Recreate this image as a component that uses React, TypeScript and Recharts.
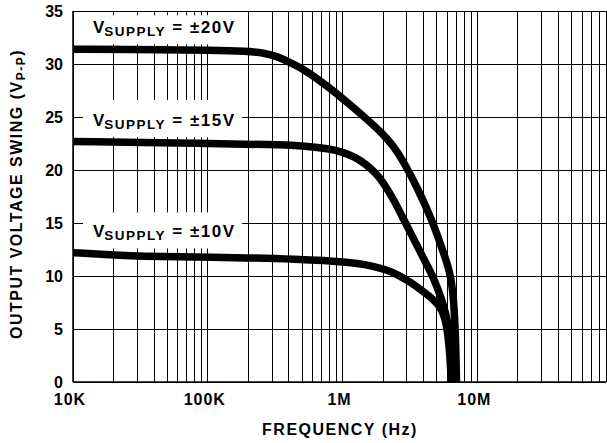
import React from 'react';
import { LineChart, Line, XAxis, YAxis, CartesianGrid, ReferenceArea } from 'recharts';

// ±20V supply curve
const freq20 = [1e4, 5e4, 1e5, 2e5, 2.6e5, 3.3e5, 4e5, 5e5, 6.5e5, 8.3e5, 1.1e6, 1.45e6, 2.0e6, 2.4e6, 2.8e6, 3.6e6, 4.6e6, 5.5e6, 6.2e6, 6.6e6, 6.85e6, 6.95e6, 7.0e6];
const vout20 = [31.4, 31.35, 31.3, 31.2, 31.05, 30.7, 30.2, 29.6, 28.6, 27.6, 26.3, 25.0, 23.4, 22.2, 20.9, 18.3, 15.3, 12.5, 10.6, 8.6, 5.2, 2.0, 0];

// ±15V supply curve
const freq15 = [1e4, 1e5, 3e5, 5e5, 8e5, 1e6, 1.25e6, 1.5e6, 1.75e6, 2.0e6, 2.4e6, 2.9e6, 3.4e6, 3.9e6, 4.5e6, 5.1e6, 5.7e6, 6.2e6, 6.5e6, 6.65e6, 6.7e6];
const vout15 = [22.7, 22.5, 22.4, 22.3, 22.0, 21.7, 21.2, 20.5, 19.75, 18.85, 17.2, 15.1, 13.4, 11.9, 10.4, 8.8, 7.0, 5.0, 2.8, 1.0, 0];

// ±10V supply curve
const freq10 = [1e4, 2e4, 3e4, 1e5, 5e5, 1.16e6, 1.6e6, 2.1e6, 2.6e6, 3.2e6, 4e6, 4.7e6, 5.4e6, 5.9e6, 6.2e6, 6.35e6, 6.4e6];
const vout10 = [12.2, 12.0, 11.85, 11.8, 11.6, 11.3, 11.0, 10.6, 10.1, 9.4, 8.5, 7.8, 7.0, 5.6, 3.2, 1.0, 0];

const xTicks = [1e4, 1e5, 1e6, 1e7];
const xTickLabels = ['10K', '100K', '1M', '10M'];
const yTicks = [0, 5, 10, 15, 20, 25, 30, 35];
const gridMultipliers = [1, 2, 3, 4, 5, 6, 7, 8, 9];
const gridDecades = [1e4, 1e5, 1e6, 1e7];
const gridFreqs = gridDecades.flatMap((d) => gridMultipliers.map((m) => d * m));

const supplyLabels = ['\u00B120V', '\u00B115V', '\u00B110V'];

const toPoints = (f: number[], v: number[]) => f.map((x, i) => ({ f: x, v: v[i] }));
const data20 = toPoints(freq20, vout20);
const data15 = toPoints(freq15, vout15);
const data10 = toPoints(freq10, vout10);

const FONT = '"Liberation Sans", Arial, Helvetica, sans-serif';

const XTick = (p: any) => {
  const idx = xTicks.indexOf(p.payload.value);
  return (
    <text x={p.x - 3} y={p.y + 15} textAnchor="middle" fontFamily={FONT} fontWeight="bold" fontSize={16} letterSpacing={1} fill="#000">
      {idx >= 0 ? xTickLabels[idx] : ''}
    </text>
  );
};

const YTick = (p: any) => (
  <text x={p.x - 2} y={p.y + 6} textAnchor="end" fontFamily={FONT} fontWeight="bold" fontSize={16} fill="#000">
    {p.payload.value}
  </text>
);

const renderSupplyLabel = (p: any, label: string) => {
  const { x, y, width, height } = p;
  const bx = x + 10;
  const by = y + height - 11;
  return (
    <g>
      <rect x={x + 10} y={y} width={width - 10} height={height} fill="#fff" stroke="none" />
      <text x={bx + 10} y={by} fontFamily={FONT} fontWeight="bold" fill="#000" style={{ whiteSpace: 'pre' }}>
        <tspan fontSize={17}>V</tspan>
        <tspan fontSize={13.5} dy={3} letterSpacing={1.5}>SUPPLY</tspan>
        <tspan fontSize={17} dy={-3} letterSpacing={1.5}>{'\u00A0=\u00A0' + label}</tspan>
      </text>
    </g>
  );
};

export default function App() {
  return (
    <div style={{ position: 'absolute', left: 0, top: 0, width: 607, height: 443, background: '#fff' }}>
      <LineChart width={607} height={443} margin={{ top: 11, right: 1, bottom: 0, left: 0 }}>
        <CartesianGrid stroke="#000" strokeWidth={1} shapeRendering="crispEdges" verticalValues={gridFreqs} horizontalValues={yTicks} />
        <XAxis
          dataKey="f"
          type="number"
          scale="log"
          domain={[1e4, 9e7]}
          allowDataOverflow
          ticks={xTicks}
          tickLine={false}
          axisLine={{ stroke: '#000', strokeWidth: 1.5 }}
          tick={<XTick />}
          height={61}
          interval={0}
        />
        <YAxis
          type="number"
          domain={[0, 35]}
          ticks={yTicks}
          tickLine={false}
          axisLine={{ stroke: '#000', strokeWidth: 1.5 }}
          tick={<YTick />}
          width={73}
          interval={0}
        />
        <ReferenceArea x1={1.0e4} x2={1.8e5} y1={31.85} y2={34.6} shape={(p: any) => renderSupplyLabel(p, supplyLabels[0])} />
        <ReferenceArea x1={1.0e4} x2={1.8e5} y1={23.1} y2={26.6} shape={(p: any) => renderSupplyLabel(p, supplyLabels[1])} />
        <ReferenceArea x1={1.0e4} x2={1.8e5} y1={12.6} y2={16.0} shape={(p: any) => renderSupplyLabel(p, supplyLabels[2])} />
        <Line data={data20} dataKey="v" type="basis" stroke="#000" strokeWidth={7.5} dot={false} isAnimationActive={false} strokeLinejoin="round" />
        <Line data={data15} dataKey="v" type="basis" stroke="#000" strokeWidth={7.5} dot={false} isAnimationActive={false} strokeLinejoin="round" />
        <Line data={data10} dataKey="v" type="basis" stroke="#000" strokeWidth={7.5} dot={false} isAnimationActive={false} strokeLinejoin="round" />
      </LineChart>
      <svg width={607} height={443} style={{ position: 'absolute', left: 0, top: 0, pointerEvents: 'none' }}>
        <text x={340} y={435} textAnchor="middle" fontFamily={FONT} fontWeight="bold" fontSize={16} letterSpacing={1.5} fill="#000">
          FREQUENCY (Hz)
        </text>
        <text transform="translate(22,194) rotate(-90)" textAnchor="middle" fontFamily={FONT} fontWeight="bold" fontSize={16} letterSpacing={1.5} fill="#000">
          <tspan>OUTPUT VOLTAGE SWING (V</tspan>
          <tspan fontSize={12} dy={3}>P-P</tspan>
          <tspan dy={-3}>)</tspan>
        </text>
      </svg>
    </div>
  );
}
